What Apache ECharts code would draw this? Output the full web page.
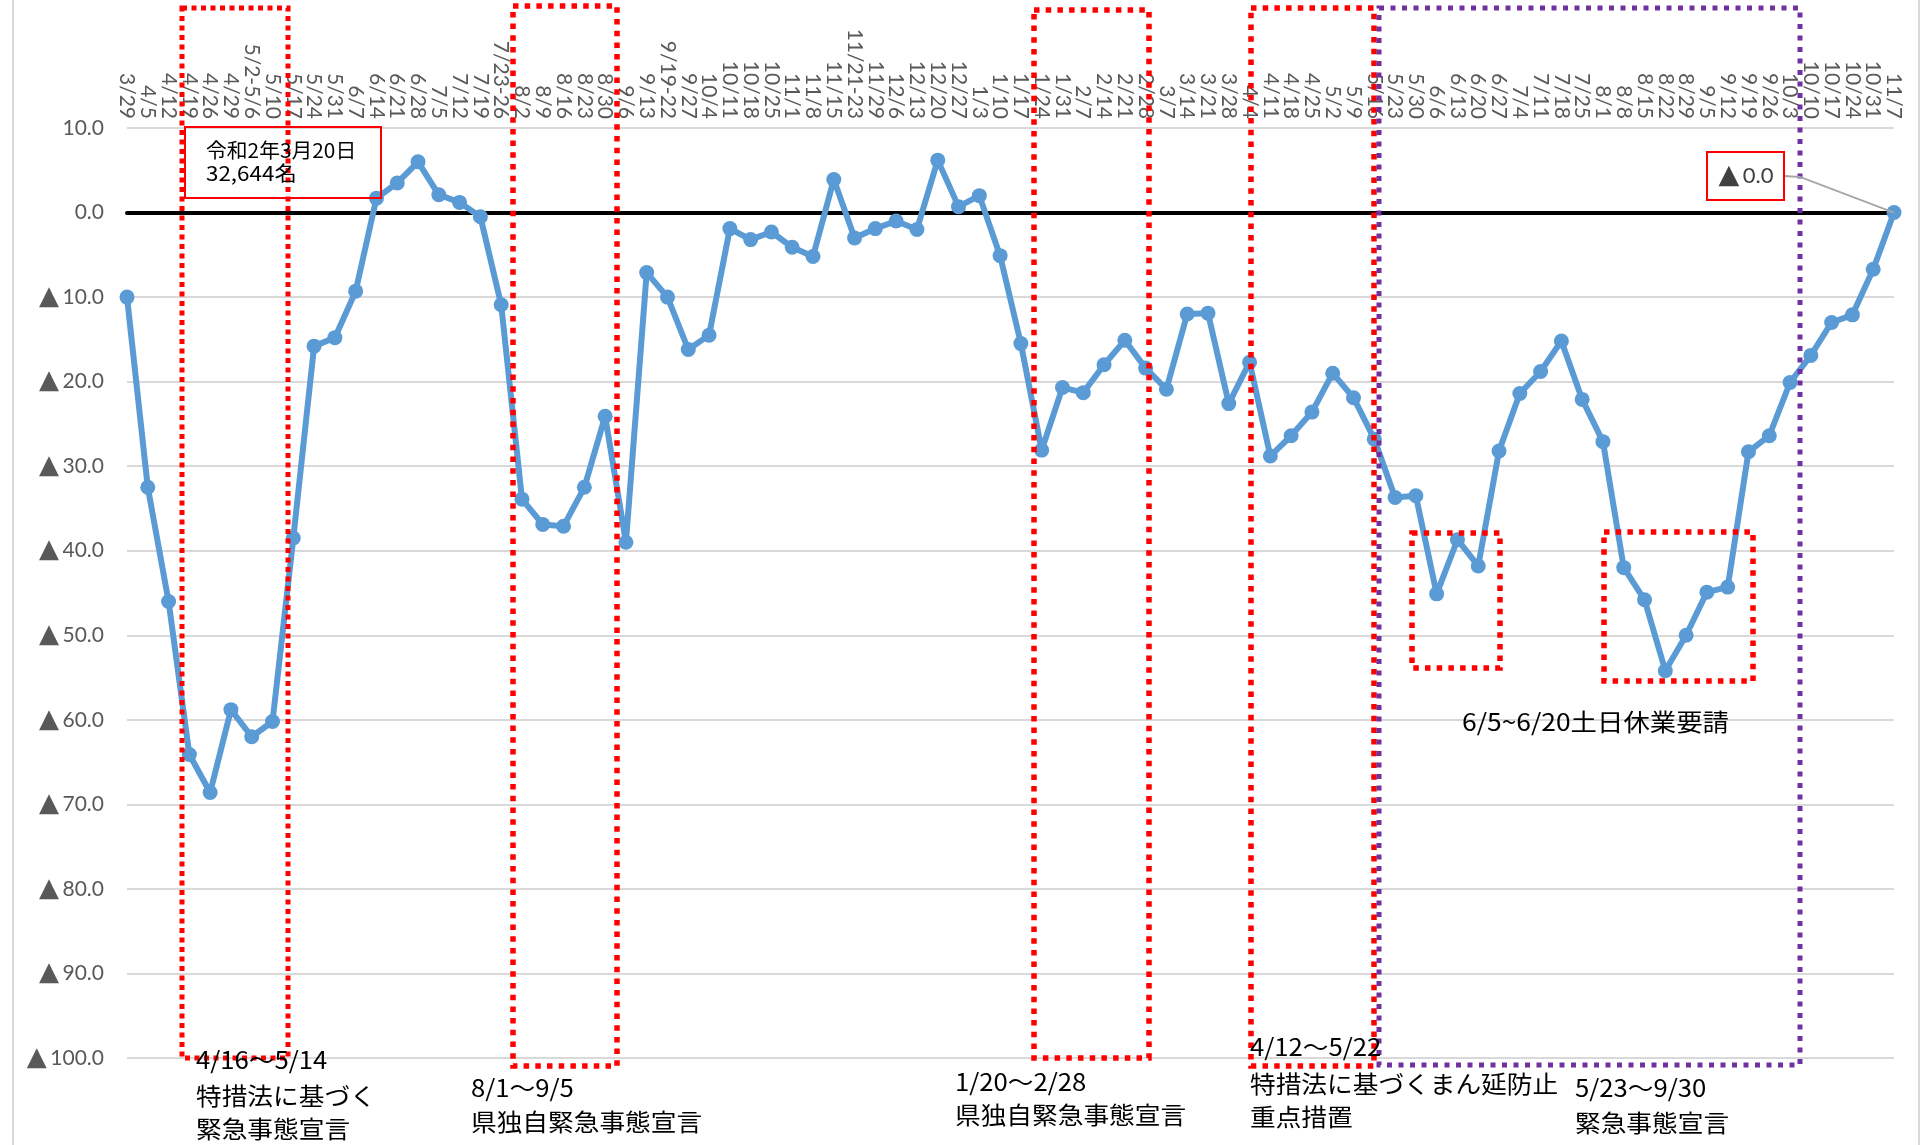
<!DOCTYPE html>
<html>
<head>
<meta charset="utf-8">
<script src="https://cdn.jsdelivr.net/npm/echarts@6/dist/echarts.min.js"></script>
<style>
html,body{margin:0;padding:0;background:#fff;}
#chart{width:1923px;height:1145px;}
</style>
</head>
<body>
<div id="chart"></div>
<script>
// ---- data ----
const categories = [
 '3/29','4/5','4/12','4/19','4/26','4/29','5/2-5/6','5/10','5/17','5/24','5/31','6/7','6/14','6/21','6/28',
 '7/5','7/12','7/19','7/23-26','8/2','8/9','8/16','8/23','8/30','9/6','9/13','9/19-22','9/27','10/4','10/11',
 '10/18','10/25','11/1','11/8','11/15','11/21-23','11/29','12/6','12/13','12/20','12/27','1/3','1/10','1/17',
 '1/24','1/31','2/7','2/14','2/21','2/28','3/7','3/14','3/21','3/28','4/4','4/11','4/18','4/25','5/2','5/9',
 '5/16','5/23','5/30','6/6','6/13','6/20','6/27','7/4','7/11','7/18','7/25','8/1','8/8','8/15','8/22','8/29',
 '9/5','9/12','9/19','9/26','10/3','10/10','10/17','10/24','10/31','11/7'
];
const changeRate = [
 -10.0,-32.5,-46.0,-64.1,-68.6,-58.8,-62.0,-60.2,-38.5,-15.8,-14.8,-9.3,1.7,3.5,6.0,
 2.1,1.2,-0.5,-10.9,-33.9,-36.9,-37.1,-32.5,-24.1,-39.0,-7.1,-10.0,-16.2,-14.5,-1.9,
 -3.2,-2.3,-4.1,-5.2,3.9,-3.0,-1.9,-1.0,-2.0,6.2,0.7,2.0,-5.1,-15.5,
 -28.1,-20.7,-21.3,-18.0,-15.1,-18.4,-20.9,-12.0,-11.9,-22.6,-17.7,-28.8,-26.4,-23.6,-19.0,-21.9,
 -26.8,-33.7,-33.5,-45.1,-38.7,-41.8,-28.2,-21.4,-18.8,-15.2,-22.1,-27.1,-42.0,-45.8,-54.2,-50.0,
 -44.9,-44.3,-28.3,-26.4,-20.1,-16.9,-13.0,-12.1,-6.7,0.0
];
const yTicks = {min:-100, max:10, interval:10};
const baseLabel = ['令和2年3月20日', '32,644名'];
const notes = [
 ['4/16～5/14','特措法に基づく','緊急事態宣言'],
 ['8/1～9/5','県独自緊急事態宣言'],
 ['1/20～2/28','県独自緊急事態宣言'],
 ['4/12～5/22','特措法に基づくまん延防止','重点措置'],
 ['5/23～9/30','緊急事態宣言'],
 ['6/5~6/20土日休業要請']
];

const chart = echarts.init(document.getElementById('chart'), null, {renderer:'canvas'});
const axisFont = 'Lato';
const cjk = '"Noto Sans CJK JP"';

const option = {
  backgroundColor:'#ffffff',
  animation:false,
  grid:{left:127, right:29, top:128, bottom:87},
  xAxis:[{
    type:'category', data:categories, position:'top', boundaryGap:false,
    axisLine:{show:false, onZero:false}, axisTick:{show:false},
    axisLabel:{interval:0, rotate:90, fontSize:21, color:'#595959', fontFamily:axisFont, margin:9},
    splitLine:{show:false}
  },{
    type:'category', data:categories, position:'bottom', boundaryGap:false,
    axisLine:{show:true, onZero:true, lineStyle:{color:'#000000', width:4}},
    axisTick:{show:false}, axisLabel:{show:false}, splitLine:{show:false}
  }],
  yAxis:{
    type:'value', min:yTicks.min, max:yTicks.max, interval:yTicks.interval,
    axisLine:{show:false}, axisTick:{show:false},
    splitLine:{show:true, lineStyle:{color:'#D9D9D9', width:2}},
    axisLabel:{
      margin:23, fontSize:21, color:'#595959', fontFamily:axisFont,
      formatter:function(v){
        if (v < 0) return '{t|▲}{s| }' + (-v).toFixed(1);
        return v.toFixed(1);
      },
      rich:{t:{fontSize:26, color:'#595959', fontFamily:'DejaVu Sans'}, s:{fontSize:14}}
    }
  },
  series:[{
    type:'line', data:changeRate, xAxisIndex:0, yAxisIndex:0,
    symbol:'circle', symbolSize:15, showAllSymbol:true,
    itemStyle:{color:'#5B9BD5'},
    lineStyle:{color:'#5B9BD5', width:6},
    z:3
  }]
};
chart.setOption(option);

// annotations
const lastPt = chart.convertToPixel({xAxisIndex:0, yAxisIndex:0}, [categories[categories.length-1], changeRate[changeRate.length-1]]);
const g = [];
function dotted(x1,y1,x2,y2,color,lw,dash){
  g.push({type:'rect', z:50, shape:{x:x1,y:y1,width:x2-x1,height:y2-y1},
    style:{fill:null, stroke:color, lineWidth:lw, lineDash:dash}});
}
function txt(t,x,y,size,color,sx){
  g.push({type:'text', z:60, x:x, y:y, scaleX:sx||1.07, style:{text:t, x:0, y:0, fill:color||'#000', fontSize:size, fontFamily:cjk,
    align:'left', verticalAlign:'middle'}});
}
// chart area borders
g.push({type:'line', z:1, shape:{x1:13,y1:0,x2:13,y2:1145}, style:{stroke:'#D9D9D9', lineWidth:2}});
g.push({type:'line', z:1, shape:{x1:1919,y1:0,x2:1919,y2:1145}, style:{stroke:'#D9D9D9', lineWidth:2}});

dotted(182,8,288,1058,'#FF0000',5,[5,4.5]);
dotted(513,6,617,1066,'#FF0000',5.5,[5.5,6.2]);
dotted(1034,10,1149,1058,'#FF0000',5.5,[5.5,6.2]);
dotted(1251,8,1374,1066,'#FF0000',5.5,[5.5,6.2]);
dotted(1379,8,1800,1065,'#7030A0',5,[5,6.5]);
dotted(1412,533,1500,668,'#FF0000',5.5,[5.5,6.2]);
dotted(1604,532,1753,681,'#FF0000',5.5,[5.5,6.2]);

// base label box
g.push({type:'rect', z:55, shape:{x:185,y:127,width:196,height:71}, style:{fill:null, stroke:'#FF0000', lineWidth:2}});
txt(baseLabel[0],206,150,20,'#000',1.04);
txt(baseLabel[1],206,173,20,'#000',1.12);
// last label box + leader
g.push({type:'polyline', z:55, shape:{points:[[1784,176],[1800,177],lastPt]}, style:{fill:null, stroke:'#A6A6A6', lineWidth:1.8}});
g.push({type:'rect', z:55, shape:{x:1707,y:152,width:77,height:48}, style:{fill:null, stroke:'#FF0000', lineWidth:2}});
g.push({type:'text', z:60, style:{text:'{t|▲}{s| }{n|0.0}', x:1746, y:176, align:'center', verticalAlign:'middle',
  rich:{t:{fontSize:27, fill:'#404040', fontFamily:'DejaVu Sans'}, s:{fontSize:12}, n:{fontSize:22, fill:'#404040', fontFamily:axisFont}}}});

// notes
txt(notes[0][0],196,1060,24); txt(notes[0][1],196,1096,24); txt(notes[0][2],196,1129,24);
txt(notes[1][0],471,1088,24); txt(notes[1][1],471,1122,24);
txt(notes[2][0],955,1082,24); txt(notes[2][1],955,1115,24);
txt(notes[3][0],1250,1047,24); txt(notes[3][1],1250,1084,24); txt(notes[3][2],1250,1117,24);
txt(notes[4][0],1575,1088,24); txt(notes[4][1],1575,1123,24);
txt(notes[5][0],1462,722,24,'#000',1.1);

chart.setOption({graphic:g});
</script>
</body>
</html>
